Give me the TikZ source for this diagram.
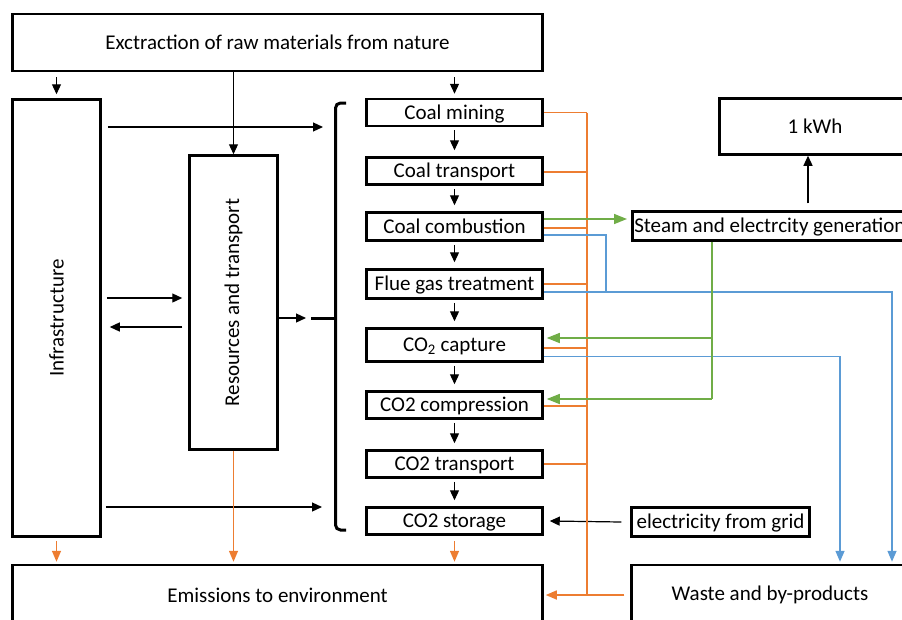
\documentclass[tikz,border=0pt]{standalone}
\usepackage{fontspec}
\setmainfont{Carlito}
\usetikzlibrary{arrows.meta,calc}
\definecolor{orangeC}{HTML}{ED7D31}
\definecolor{blueC}{HTML}{5B9BD5}
\definecolor{greenC}{HTML}{70AD47}
\begin{document}
\begin{tikzpicture}[x=1pt,y=-1pt,
  font=\fontsize{21}{24}\selectfont,
  box/.style={draw=black, line width=2.5pt, inner sep=0pt, align=center},
  proc/.style={box, minimum width=176pt, minimum height=27pt, text depth=1pt},
  tip/.style={-{Triangle[length=10pt,width=9pt]}},
  arr/.style={draw=black, line width=1.2pt, tip},
  org/.style={draw=orangeC, line width=1.5pt},
  orgarr/.style={org, -{Triangle[length=11pt,width=9pt]}},
  blu/.style={draw=blueC, line width=1.5pt},
  bluarr/.style={blu, -{Triangle[length=11pt,width=9pt]}},
  grn/.style={draw=greenC, line width=1.5pt},
  grnarr/.style={grn, -{Triangle[length=13pt,width=10pt]}},
  bracketline/.style={draw=black, line width=3pt}
]
\useasboundingbox (0,0) rectangle (902,619);

% main boxes
\node[box, minimum width=530, minimum height=57] (ext) at (277.5,42.5) {Exctraction of raw materials from nature};
\node[box, minimum width=88, minimum height=437] (infra) at (56.5,318) {};
\node[rotate=90] (infratxt) at (infra.center) {Infrastructure};
\node[box, minimum width=88, minimum height=294] (res) at (233.5,302.5) {};
\node[rotate=90] (restxt) at (res.center) {Resources and transport};

% process chain
\node[proc] (mine)   at (454.5,112.5) {Coal mining};
\node[proc] (ctrans) at (454.5,171) {Coal transport};
\node[proc, minimum height=28] (comb)   at (454.5,226.5) {Coal combustion};
\node[proc, minimum height=29] (flue)   at (454.5,284) {Flue gas treatment};
\node[proc, minimum height=33] (capt)   at (454.5,345) {CO\textsubscript{2} capture};
\node[proc] (comp)   at (454.5,405) {CO2 compression};
\node[proc] (trans)  at (454.5,464) {CO2 transport};
\node[proc] (stor)   at (454.5,521) {CO2 storage};

% right side
\node[box, anchor=west, minimum height=29, inner xsep=2pt, text depth=1pt] (steam) at (631,226) {Steam and electrcity generation};
\node[box, minimum width=191, minimum height=56] (kwh) at (815,126.5) {1 kWh};
\node[box, minimum width=178, minimum height=29, text depth=1pt] (grid) at (720.5,522) {electricity from grid};

% bottom
\node[box, minimum width=530, minimum height=60] (emis) at (277.5,595) {Emissions to environment};
\node[box, minimum width=277, minimum height=60] (waste) at (770,595) {Waste and by-products};

% bracket
\draw[bracketline, rounded corners=5pt] (346,103) -- (335.5,103) -- (335.5,530) -- (346,530);
\draw[bracketline] (311,318) -- (335.5,318);
\coordinate (b1) at (323,127);
\coordinate (b2) at (306,318);
\coordinate (b3) at (322,507);

% black connectors
\draw[arr] ($(ext.south -| infra)+(0,5)$) -- ($(infra.north)+(0,-4)$);
\draw[arr] (ext.south -| res) -- (res.north);
\draw[arr] ($(ext.south -| mine)+(0,5)$) -- ($(mine.north)+(0,-4)$);
\draw[arr] ($(infra.east |- b1)+(6,0)$) -- (b1);
\draw[arr] ($(infra.east |- b3)+(4,0)$) -- (b3);
\draw[arr] ($(infra.east)+(5,-20)$) -- ($(res.west)+(-6,-4.5)$);
\draw[arr] ($(res.west)+(-6,24.5)$) -- ($(infra.east)+(8,9)$);
\draw[arr] (res.east |- b2) -- (b2);
\foreach \a/\b in {mine/ctrans, ctrans/comb, comb/flue, flue/capt, capt/comp, comp/trans, trans/stor}
  \draw[arr] ($(\a.south)+(0,3)$) -- ($(\b.north)+(0,-6)$);
\coordinate (kx) at (808,0);
\draw[arr] ($(kx |- steam.north)+(0,-7)$) -- (kx |- kwh.south);
\draw[arr] ($(grid.west)+(-9,0)$) -- ($(stor.east)+(6,0)$);

% orange emissions
\coordinate (bus) at (587,0);
\foreach \n/\dy in {mine/0, ctrans/1, comb/1.5, flue/0, capt/3, comp/1, trans/0} {
  \coordinate (o\n) at ($(\n.east)+(0,\dy)$);
  \draw[org] (o\n) -- (o\n -| bus);
}
\draw[org] (omine -| bus) -- (bus |- waste);
\draw[orgarr] ($(waste.west)+(-6,0)$) -- ($(emis.east)+(2,0)$);
\draw[orgarr] ($(infra.south)+(0,3)$) -- ($(emis.north -| infra)+(0,-2)$);
\draw[orgarr] (res.south) -- ($(emis.north -| res)+(0,-2)$);
\draw[orgarr] ($(stor.south)+(0,5)$) -- ($(emis.north -| stor)+(0,-2)$);

% blue waste
\coordinate (bx1) at (606,0);
\coordinate (bx2) at (892,0);
\coordinate (bx3) at (840,0);
\coordinate (bcomb) at ($(comb.east)+(0,8.5)$);
\coordinate (bflue) at ($(flue.east)+(0,8)$);
\coordinate (bcapt) at ($(capt.east)+(0,11.7)$);
\draw[blu] (bcomb) -- (bcomb -| bx1) -- (bx1 |- bflue);
\draw[bluarr] (bflue) -- (bflue -| bx2) -- ($(bx2 |- waste.north)+(0,-2)$);
\draw[bluarr] (bcapt) -- (bcapt -| bx3) -- ($(bx3 |- waste.north)+(0,-2)$);

% green energy
\coordinate (gx) at (712,0);
\coordinate (gcomb) at ($(comb.east)+(0,-7.5)$);
\coordinate (gcapt) at ($(capt.east)+(0,-7)$);
\coordinate (gcomp) at ($(comp.east)+(0,-6)$);
\draw[grnarr] (gcomb) -- ($(gcomb -| steam.west)+(-4,0)$);
\draw[grn] (steam.south -| gx) -- (gx |- gcomp);
\draw[grnarr] (gx |- gcapt) -- ($(gcapt)+(3,0)$);
\draw[grnarr] (gx |- gcomp) -- ($(gcomp)+(3,0)$);
\end{tikzpicture}
\end{document}
